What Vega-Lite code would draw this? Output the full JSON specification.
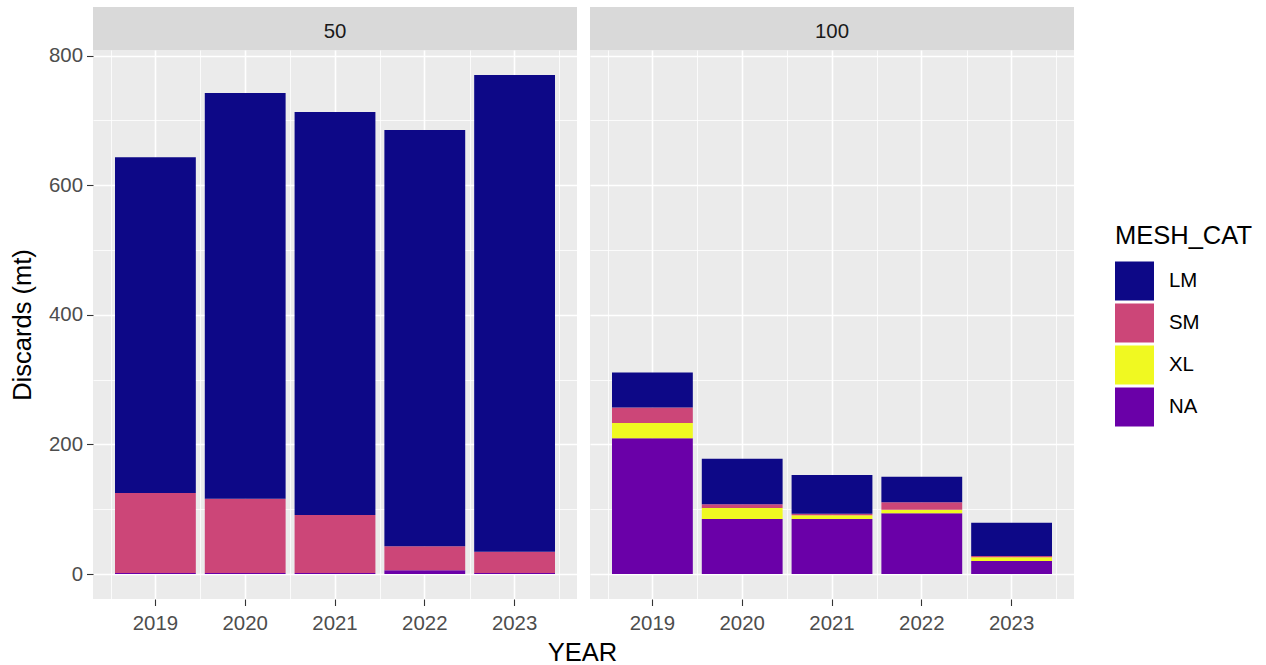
{
  "$schema": "https://vega.github.io/schema/vega-lite/v6.json",
  "background": "white",
  "padding": {"left": 10, "top": 7, "right": 5, "bottom": 2},
  "autosize": {"type": "pad"},
  "datasets": {
    "discards": [
      {"PANEL": "50", "YEAR": 2019, "MESH_CAT": "NA", "DISCARDS": 1.5},
      {"PANEL": "50", "YEAR": 2019, "MESH_CAT": "SM", "DISCARDS": 123.5},
      {"PANEL": "50", "YEAR": 2019, "MESH_CAT": "LM", "DISCARDS": 518},
      {"PANEL": "50", "YEAR": 2020, "MESH_CAT": "NA", "DISCARDS": 1.5},
      {"PANEL": "50", "YEAR": 2020, "MESH_CAT": "SM", "DISCARDS": 114.5},
      {"PANEL": "50", "YEAR": 2020, "MESH_CAT": "LM", "DISCARDS": 626},
      {"PANEL": "50", "YEAR": 2021, "MESH_CAT": "NA", "DISCARDS": 1.5},
      {"PANEL": "50", "YEAR": 2021, "MESH_CAT": "SM", "DISCARDS": 89.5},
      {"PANEL": "50", "YEAR": 2021, "MESH_CAT": "LM", "DISCARDS": 622},
      {"PANEL": "50", "YEAR": 2022, "MESH_CAT": "NA", "DISCARDS": 6},
      {"PANEL": "50", "YEAR": 2022, "MESH_CAT": "SM", "DISCARDS": 37},
      {"PANEL": "50", "YEAR": 2022, "MESH_CAT": "LM", "DISCARDS": 642},
      {"PANEL": "50", "YEAR": 2023, "MESH_CAT": "NA", "DISCARDS": 1.5},
      {"PANEL": "50", "YEAR": 2023, "MESH_CAT": "SM", "DISCARDS": 33},
      {"PANEL": "50", "YEAR": 2023, "MESH_CAT": "LM", "DISCARDS": 735.5},
      {"PANEL": "100", "YEAR": 2019, "MESH_CAT": "NA", "DISCARDS": 209.5},
      {"PANEL": "100", "YEAR": 2019, "MESH_CAT": "XL", "DISCARDS": 23.5},
      {"PANEL": "100", "YEAR": 2019, "MESH_CAT": "SM", "DISCARDS": 24},
      {"PANEL": "100", "YEAR": 2019, "MESH_CAT": "LM", "DISCARDS": 54},
      {"PANEL": "100", "YEAR": 2020, "MESH_CAT": "NA", "DISCARDS": 85},
      {"PANEL": "100", "YEAR": 2020, "MESH_CAT": "XL", "DISCARDS": 17},
      {"PANEL": "100", "YEAR": 2020, "MESH_CAT": "SM", "DISCARDS": 5.6},
      {"PANEL": "100", "YEAR": 2020, "MESH_CAT": "LM", "DISCARDS": 70.4},
      {"PANEL": "100", "YEAR": 2021, "MESH_CAT": "NA", "DISCARDS": 85},
      {"PANEL": "100", "YEAR": 2021, "MESH_CAT": "XL", "DISCARDS": 5.6},
      {"PANEL": "100", "YEAR": 2021, "MESH_CAT": "SM", "DISCARDS": 2.4},
      {"PANEL": "100", "YEAR": 2021, "MESH_CAT": "LM", "DISCARDS": 60},
      {"PANEL": "100", "YEAR": 2022, "MESH_CAT": "NA", "DISCARDS": 93.7},
      {"PANEL": "100", "YEAR": 2022, "MESH_CAT": "XL", "DISCARDS": 5.6},
      {"PANEL": "100", "YEAR": 2022, "MESH_CAT": "SM", "DISCARDS": 11.4},
      {"PANEL": "100", "YEAR": 2022, "MESH_CAT": "LM", "DISCARDS": 39.3},
      {"PANEL": "100", "YEAR": 2023, "MESH_CAT": "NA", "DISCARDS": 20},
      {"PANEL": "100", "YEAR": 2023, "MESH_CAT": "XL", "DISCARDS": 5.8},
      {"PANEL": "100", "YEAR": 2023, "MESH_CAT": "SM", "DISCARDS": 2.2},
      {"PANEL": "100", "YEAR": 2023, "MESH_CAT": "LM", "DISCARDS": 51}
    ]
  },
  "config": {
    "font": "Liberation Sans",
    "view": {"stroke": null},
    "axis": {
      "domain": false,
      "grid": true,
      "gridColor": "white",
      "tickColor": "#333333",
      "tickSize": 6.5,
      "tickWidth": 1.1,
      "labelFontSize": 20.4,
      "labelColor": "#4D4D4D",
      "titleFontSize": 25.5,
      "titleFontWeight": "normal",
      "titleColor": "black"
    }
  },
  "columns": 2,
  "spacing": {"row": 0, "column": 13},
  "bounds": "flush",
  "concat": [
    {
      "width": 484,
      "height": 43,
      "view": {"fill": "#D9D9D9", "stroke": null},
      "data": {"values": [{"PANEL": "50"}]},
      "mark": {"type": "text", "fontSize": 20.4, "color": "#1A1A1A", "baseline": "middle", "align": "center", "dy": 3.5},
      "encoding": {
        "x": {"field": "PANEL", "type": "nominal", "axis": null},
        "y": {"field": "PANEL", "type": "nominal", "axis": null},
        "text": {"field": "PANEL", "type": "nominal"}
      }
    },
    {
      "width": 484,
      "height": 43,
      "view": {"fill": "#D9D9D9", "stroke": null},
      "data": {"values": [{"PANEL": "100"}]},
      "mark": {"type": "text", "fontSize": 20.4, "color": "#1A1A1A", "baseline": "middle", "align": "center", "dy": 3.5},
      "encoding": {
        "x": {"field": "PANEL", "type": "nominal", "axis": null},
        "y": {"field": "PANEL", "type": "nominal", "axis": null},
        "text": {"field": "PANEL", "type": "nominal"}
      }
    },
    {
      "width": 484,
      "height": 549,
      "view": {"fill": "#EBEBEB", "stroke": null},
      "data": {"name": "discards"},
      "transform": [
        {"filter": "datum.PANEL === '50'"},
        {"calculate": "indexof(['NA','XL','SM','LM'], datum.MESH_CAT)", "as": "stack_order"}
      ],
      "resolve": {"axis": {"x": "independent"}},
      "layer": [
        {
          "mark": {"type": "point", "opacity": 0},
          "encoding": {
            "x": {
              "field": "YEAR", "type": "ordinal",
              "scale": {"type": "band", "paddingInner": 0, "paddingOuter": 0.195},
              "axis": {"orient": "bottom", "tickBand": "extent", "grid": true, "gridWidth": 0.8, "labels": false, "ticks": false, "title": null}
            }
          }
        },
        {
          "mark": {"type": "bar", "width": {"band": 0.9}},
          "encoding": {
            "x": {
              "field": "YEAR", "type": "ordinal",
              "scale": {"type": "band", "paddingInner": 0, "paddingOuter": 0.195},
              "axis": {"orient": "bottom", "grid": true, "gridWidth": 1.6, "labelAngle": 0, "labelPadding": 8, "title": "YEAR", "titleX": 489, "titlePadding": 7}
            },
            "y": {
              "field": "DISCARDS", "type": "quantitative", "stack": "zero",
              "scale": {"domain": [-38.5, 808.5], "nice": false, "zero": false},
              "axis": {
                "values": [0, 100, 200, 300, 400, 500, 600, 700, 800],
                "gridWidth": {"condition": {"test": "datum.value % 200 === 0", "value": 1.6}, "value": 0.8},
                "tickOpacity": {"condition": {"test": "datum.value % 200 === 0", "value": 1}, "value": 0},
                "labelExpr": "datum.value % 200 === 0 ? datum.label : ''",
                "labelPadding": 4,
                "title": "Discards (mt)",
                "titlePadding": 13
              }
            },
            "color": {
              "field": "MESH_CAT", "type": "nominal",
              "scale": {"domain": ["LM", "SM", "XL", "NA"], "range": ["#0D0887", "#CC4678", "#F0F921", "#6A00A8"]},
              "legend": {
                "title": "MESH_CAT",
                "titleFontSize": 25.5, "titleFontWeight": "normal", "titleColor": "black", "titlePadding": 12,
                "labelFontSize": 20.4, "labelColor": "black", "labelOffset": 15,
                "symbolType": "square", "symbolSize": 1521, "symbolStrokeWidth": 0, "symbolOpacity": 1,
                "rowPadding": 3,
                "orient": "none", "legendX": 1022, "legendY": 217
              }
            },
            "order": {"field": "stack_order", "type": "quantitative"}
          }
        }
      ]
    },
    {
      "width": 484,
      "height": 549,
      "view": {"fill": "#EBEBEB", "stroke": null},
      "data": {"name": "discards"},
      "transform": [
        {"filter": "datum.PANEL === '100'"},
        {"calculate": "indexof(['NA','XL','SM','LM'], datum.MESH_CAT)", "as": "stack_order"}
      ],
      "resolve": {"axis": {"x": "independent"}},
      "layer": [
        {
          "mark": {"type": "point", "opacity": 0},
          "encoding": {
            "x": {
              "field": "YEAR", "type": "ordinal",
              "scale": {"type": "band", "paddingInner": 0, "paddingOuter": 0.195},
              "axis": {"orient": "bottom", "tickBand": "extent", "grid": true, "gridWidth": 0.8, "labels": false, "ticks": false, "title": null}
            }
          }
        },
        {
          "mark": {"type": "bar", "width": {"band": 0.9}},
          "encoding": {
            "x": {
              "field": "YEAR", "type": "ordinal",
              "scale": {"type": "band", "paddingInner": 0, "paddingOuter": 0.195},
              "axis": {"orient": "bottom", "grid": true, "gridWidth": 1.6, "labelAngle": 0, "labelPadding": 8, "title": null}
            },
            "y": {
              "field": "DISCARDS", "type": "quantitative", "stack": "zero",
              "scale": {"domain": [-38.5, 808.5], "nice": false, "zero": false},
              "axis": {
                "values": [0, 100, 200, 300, 400, 500, 600, 700, 800],
                "gridWidth": {"condition": {"test": "datum.value % 200 === 0", "value": 1.6}, "value": 0.8},
                "labels": false, "ticks": false, "title": null
              }
            },
            "color": {
              "field": "MESH_CAT", "type": "nominal",
              "scale": {"domain": ["LM", "SM", "XL", "NA"], "range": ["#0D0887", "#CC4678", "#F0F921", "#6A00A8"]}
            },
            "order": {"field": "stack_order", "type": "quantitative"}
          }
        }
      ]
    }
  ]
}
